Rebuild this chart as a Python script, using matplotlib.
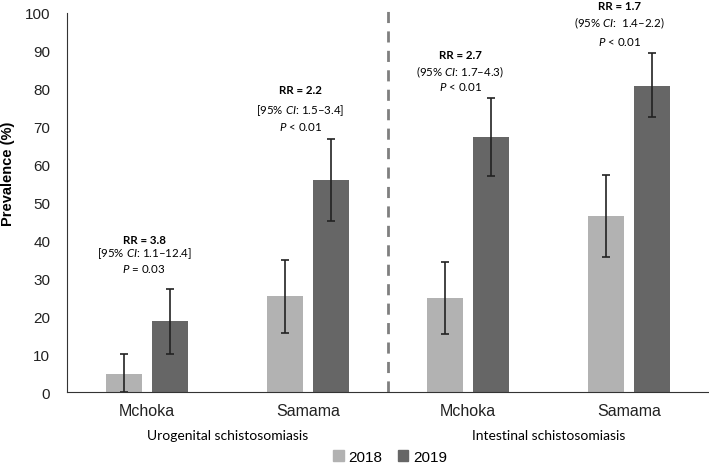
import numpy as np
import matplotlib
matplotlib.use('Agg')
import matplotlib.pyplot as plt
from matplotlib.patches import Patch

# data
villages = ['Mchoka', 'Samama', 'Mchoka', 'Samama']
groups = ['Urogenital schistosomiasis', 'Intestinal schistosomiasis']
prev_2018 = [4.8, 25.2, 24.8, 46.4]
low_2018 = [0.0, 15.5, 15.2, 35.7]
high_2018 = [10.1, 34.8, 34.2, 57.3]
prev_2019 = [18.6, 56.0, 67.3, 80.8]
low_2019 = [10.0, 45.0, 57.0, 72.5]
high_2019 = [27.2, 66.8, 77.5, 89.4]
rr_text = ['RR = 3.8', 'RR = 2.2', 'RR = 2.7', 'RR = 1.7']
ci_text = ['[95% $\\mathit{CI}$: 1.1–12.4]', '[95% $\\mathit{CI}$: 1.5–3.4]',
           '(95% $\\mathit{CI}$: 1.7–4.3)', '(95% $\\mathit{CI}$:  1.4–2.2)']
p_text = ['$\\mathit{P}$ = 0.03', '$\\mathit{P}$ < 0.01', '$\\mathit{P}$ < 0.01', '$\\mathit{P}$ < 0.01']
# vertical position (data units) of the three annotation lines
rr_y = [40.1, 79.9, 88.9, 101.9]
ci_y = [36.7, 74.4, 84.7, 97.4]
p_y = [32.7, 70.2, 80.7, 92.6]

plt.rcParams['mathtext.fontset'] = 'custom'
plt.rcParams['mathtext.it'] = 'Lato:italic'
plt.rcParams['mathtext.rm'] = 'Lato'

c18 = '#b2b2b2'
c19 = '#666666'

fig = plt.figure(figsize=(7.09, 4.64), dpi=100)
ax = fig.add_axes([0.0945, 0.153, 0.9055, 0.817])

x = np.arange(len(villages))
w = 0.225
off = 0.143

err18 = [np.array(prev_2018) - np.array(low_2018), np.array(high_2018) - np.array(prev_2018)]
err19 = [np.array(prev_2019) - np.array(low_2019), np.array(high_2019) - np.array(prev_2019)]

ekw = dict(ecolor='#222222', elinewidth=1.2, capthick=1.2)
ax.bar(x - off, prev_2018, w, color=c18, yerr=err18, capsize=2.8, error_kw=ekw)
ax.bar(x + off, prev_2019, w, color=c19, yerr=err19, capsize=2.8, error_kw=ekw)

ax.set_xlim(-0.5, 3.5)
ax.set_ylim(0, 100)
ax.set_yticks(range(0, 101, 10))
ax.set_xticks(x)
ax.set_xticklabels(villages, fontsize=11.5, family='Liberation Sans')
for lab in ax.get_yticklabels():
    lab.set_family('Liberation Sans')
    lab.set_fontsize(11)
ax.tick_params(axis='both', length=0, pad=8, colors='#222222')
ax.tick_params(axis='y', pad=12)
ax.set_ylabel('Prevalence (%)', fontsize=10.5, fontweight='bold',
              family='Liberation Sans', va='center')
ax.yaxis.set_label_coords(-0.092, 0.578)

for s in ['top', 'right']:
    ax.spines[s].set_visible(False)
ax.spines['left'].set_color('#333333')
ax.spines['bottom'].set_color('#333333')

# dashed separator between the two infections
ax.plot([1.5, 1.5], [0, 100.5], color='#7f7f7f', lw=2, ls=(0, (4, 3)), clip_on=False)

# annotations
shift = [-0.02, -0.045, -0.05, -0.06]
for i in range(len(villages)):
    cx = x[i] + shift[i]
    ax.text(cx, rr_y[i], rr_text[i], ha='center', va='center', fontsize=8.3,
            fontweight='bold', family='Lato', clip_on=False)
    ax.text(cx, ci_y[i], ci_text[i], ha='center', va='center', fontsize=8.3,
            family='Lato', clip_on=False)
    ax.text(cx, p_y[i], p_text[i], ha='center', va='center', fontsize=8.3,
            family='Lato', clip_on=False)

# group labels below village names
trans = ax.get_xaxis_transform()
ax.text(0.5, -0.114, groups[0], transform=trans, ha='center', va='center',
        fontsize=10, family='Lato')
ax.text(2.5, -0.114, groups[1], transform=trans, ha='center', va='center',
        fontsize=10, family='Lato')

handles = [Patch(color=c18, label='2018'), Patch(color=c19, label='2019')]
fig.legend(handles=handles, loc='center', bbox_to_anchor=(0.55, 0.013), ncol=2,
           frameon=False, handlelength=0.7, handleheight=0.7, handletextpad=0.3,
           columnspacing=1.0, prop={'family': 'Liberation Sans', 'size': 11})

fig.savefig('out.png', dpi=100)
